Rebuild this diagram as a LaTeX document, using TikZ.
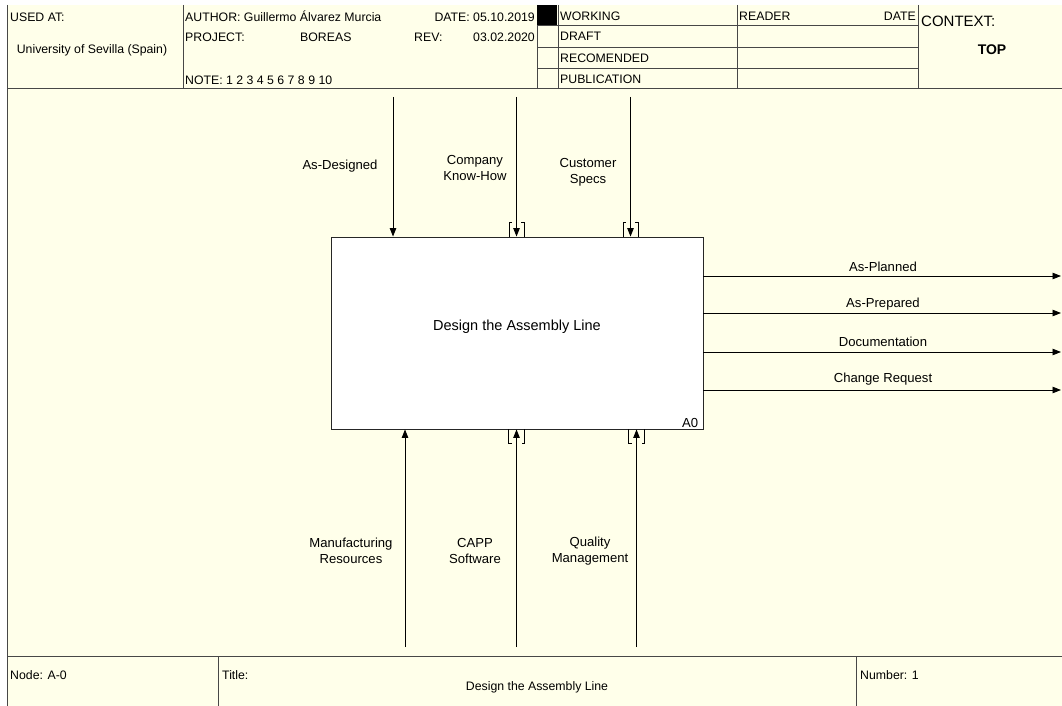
\documentclass[tikz,border=0pt]{standalone}
\usepackage{fontspec}
\setmainfont{Liberation Sans}
\usetikzlibrary{arrows.meta}

\definecolor{idefbg}{HTML}{FFFFEA}
\definecolor{idefline}{HTML}{474747}

\tikzset{
  frameline/.style={line width=0.8pt, draw=idefline},
  hdrtext/.style={inner sep=0pt, text height=8.5pt, text depth=2pt, font=\fontsize{12.3}{14}\selectfont},
  lbltext/.style={inner sep=0pt, align=center, font=\fontsize{13.1}{16}\selectfont},
  actbox/.style={draw=black!85, fill=white, line width=0.9pt, inner sep=0pt,
    minimum width=372pt, minimum height=192pt},
  icomarrow/.style={line width=0.9pt, -{Triangle[length=8.5pt,width=6.5pt]}},
  tunnel/.style={line width=0.8pt},
}

\begin{document}
\begin{tikzpicture}[x=1pt, y=-1pt, line cap=butt, line join=miter]

  %% ════ canvas ════
  \fill[white] (0,0) rectangle (1062,706);
  \fill[idefbg] (7,5) rectangle (1062,706);

  %% ════ frame lines (header + footer) ════
  \draw[frameline] (7,5) -- (7,706);
  \draw[frameline] (7,88) -- (1062,88);
  \draw[frameline] (7,656) -- (1062,656);
  \foreach \vx in {183,537,558,737,918}
    \draw[frameline] (\vx,5) -- (\vx,88);
  \foreach \hy in {25,47,68}
    \draw[frameline] (537,\hy) -- (918,\hy);
  \fill[black] (537,5) rectangle (557,25);
  \draw[frameline] (218,656) -- (218,706);
  \draw[frameline] (856,656) -- (856,706);

  %% ════ header texts ════
  \node[hdrtext, anchor=west] (usedAt) at (10,18) {USED AT:};
  \node[hdrtext] (usedAtVal) at (92,50) {University of Sevilla (Spain)};
  \node[hdrtext, anchor=west] (author) at (185,18) {AUTHOR: Guillermo Álvarez Murcia};
  \node[hdrtext, anchor=east] (date) at (535,18) {DATE: 05.10.2019};
  \node[hdrtext, anchor=west] (project) at (185,38) {PROJECT:};
  \node[hdrtext, anchor=west] (projectVal) at (300,38) {BOREAS};
  \node[hdrtext, anchor=west] (rev) at (414,38) {REV:};
  \node[hdrtext, anchor=east] (revVal) at (535,38) {03.02.2020};
  \node[hdrtext, anchor=west] (note) at (185,81) {NOTE: 1 2 3 4 5 6 7 8 9 10};
  \node[hdrtext, anchor=west] (working) at (560,17) {WORKING};
  \node[hdrtext, anchor=west] (draft) at (560,37) {DRAFT};
  \node[hdrtext, anchor=west] (recomended) at (560,59) {RECOMENDED};
  \node[hdrtext, anchor=west] (publication) at (560,80) {PUBLICATION};
  \node[hdrtext, anchor=west] (reader) at (739,17) {READER};
  \node[hdrtext, anchor=east] (readerDate) at (916,17) {DATE};
  \node[inner sep=0pt, anchor=west, font=\fontsize{15}{18}\selectfont] (context) at (921,21) {CONTEXT:};
  \node[inner sep=0pt, font=\bfseries\fontsize{14}{17}\selectfont] (contextVal) at (992,50) {TOP};

  %% ════ footer texts ════
  \node[hdrtext, anchor=west] (nodeId) at (10,676) {Node: A-0};
  \node[hdrtext, anchor=west] (titleKey) at (222,676) {Title:};
  \node[hdrtext] (titleVal) at (537,687) {Design the Assembly Line};
  \node[hdrtext, anchor=west] (number) at (860,676) {Number: 1};

  %% ════ activity box ════
  \node[actbox] (A0) at (517,333) {};
  \node[inner sep=0pt, font=\fontsize{14.5}{17}\selectfont] (A0title) at ([yshift=6pt]A0.center) {Design the Assembly Line};
  \node[lbltext, anchor=south east] (A0num) at ([xshift=-5pt,yshift=2pt]A0.south east) {A0};

  %% ════ arrow ends ════
  \coordinate (inDesigned) at (393,97);
  \coordinate (inKnowHow) at (516.5,97);
  \coordinate (inSpecs) at (630.5,97);
  \coordinate (mechResources) at (405,647);
  \coordinate (mechCapp) at (516.5,647);
  \coordinate (mechQuality) at (636.5,647);
  \coordinate (outPlanned) at (1061,276);
  \coordinate (outPrepared) at (1061,313);
  \coordinate (outDocs) at (1061,352);
  \coordinate (outChange) at (1061,390);

  %% ════ inputs / controls / outputs ════
  \foreach \c in {inDesigned,inKnowHow,inSpecs}
    \draw[icomarrow] (\c) -- (\c |- A0.north);
  \foreach \c in {mechResources,mechCapp,mechQuality}
    \draw[icomarrow] (\c) -- (\c |- A0.south);
  \foreach \c in {outPlanned,outPrepared,outDocs,outChange}
    \draw[icomarrow] (A0.east |- \c) -- (\c);

  %% ════ tunnel brackets ════
  \foreach \tx in {516.5,630.5}
    \draw[tunnel] (\tx-7.5,237) -- (\tx-7.5,222) -- (\tx-4.5,222)
                  (\tx+7.5,237) -- (\tx+7.5,222) -- (\tx+4.5,222);
  \foreach \tx in {516.5,636.5}
    \draw[tunnel] (\tx-8,429) -- (\tx-8,443) -- (\tx-5,443)
                  (\tx+8,429) -- (\tx+8,443) -- (\tx+5,443);

  %% ════ arrow labels ════
  \node[lbltext] (lblDesigned) at (340,166) {As-Designed};
  \node[lbltext] (lblKnowHow) at (475,168) {Company\\Know-How};
  \node[lbltext] (lblSpecs) at (588,172) {Customer\\Specs};
  \node[lbltext] (lblResources) at (351,551) {Manufacturing\\Resources};
  \node[lbltext] (lblCapp) at (475,551) {CAPP\\Software};
  \node[lbltext] (lblQuality) at (590,551) {Quality\\Management};
  \node[lbltext] (lblPlanned) at (883,267) {As-Planned};
  \node[lbltext] (lblPrepared) at (883,304) {As-Prepared};
  \node[lbltext] (lblDocs) at (883,342) {Documentation};
  \node[lbltext] (lblChange) at (883,379) {Change Request};

  \pgfresetboundingbox
  \path[use as bounding box] (0,0) rectangle (1062,706);
\end{tikzpicture}
\end{document}
